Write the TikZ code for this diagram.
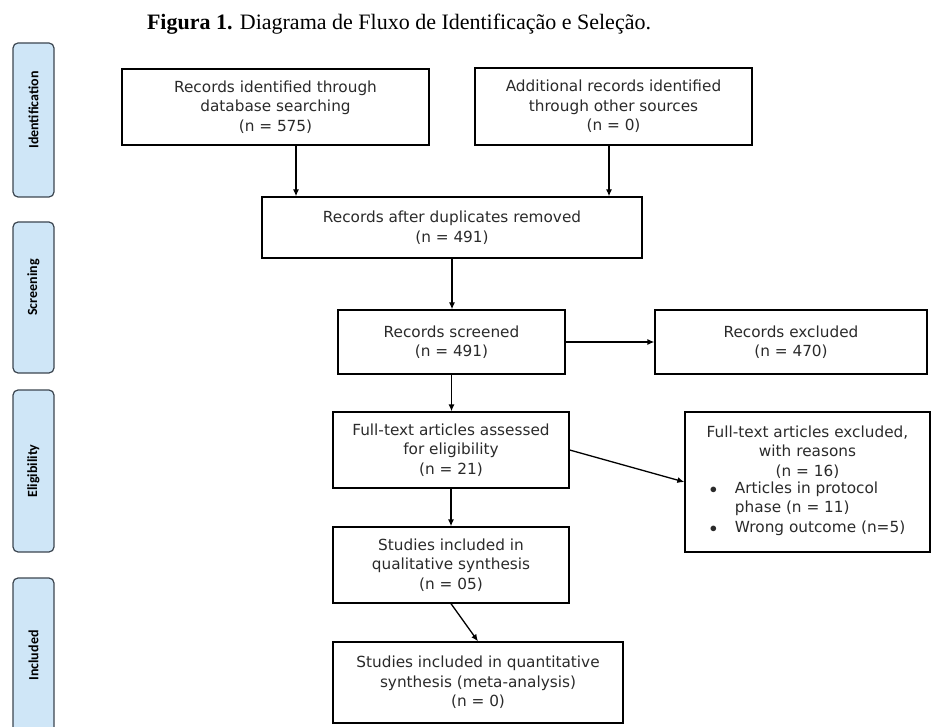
\documentclass[tikz,border=0pt]{standalone}
\usepackage{fontspec}
\setmainfont{Liberation Serif}
\newfontfamily\boxfont{DejaVu Sans}
\newfontfamily\phasefont{Carlito}
\usetikzlibrary{arrows.meta,positioning}
\definecolor{phaseblue}{HTML}{CFE6F7}
\definecolor{phaseline}{HTML}{3C4650}
\definecolor{boxtext}{HTML}{2A2A2A}

\begin{document}
\begin{tikzpicture}[x=1pt,y=-1pt,>={Latex[length=7pt,width=6pt]},
  box/.style={draw,line width=1.3pt,align=center,inner sep=0pt,text=boxtext,
    font=\boxfont\fontsize{15.3}{19.6}\selectfont},
  phase/.style={draw=phaseline,fill=phaseblue,line width=1.2pt,rounded corners=5pt,
    rotate=90,minimum height=41pt,inner sep=0pt,
    font=\phasefont\bfseries\fontsize{14}{16}\selectfont},
  flow/.style={->,line width=1.3pt}]
\useasboundingbox (0,0) rectangle (932,727);
% title
\node (title) at (399,24) {\fontsize{22}{24}\selectfont\textbf{Figura 1.} Diagrama de Fluxo de Identificação e Seleção.};
% phases on the left
\node[phase,minimum width=154pt] (ident) at (33.5,120) {\hspace{20pt}Identification};
\node[phase,minimum width=151pt] (screen) at (33.5,297.5) {\hspace{20pt}Screening};
\node[phase,minimum width=162pt] (elig) at (33.5,471) {Eligibility};
\node[phase,minimum width=155pt] (incl) at (33.5,655.5) {Included};
% identification
\node[box,minimum width=307pt,minimum height=76pt] (db) at (275.5,107)
  {Records identified through\\database searching\\(n = 575)};
\node[box,minimum width=277pt,minimum height=77pt] (other) at (613.5,106.5)
  {Additional records identified\\through other sources\\(n = 0)};
\node[box,minimum width=380pt,minimum height=61pt] (dup) at (452,227.5)
  {Records after duplicates removed\\(n = 491)};
% screening
\node[box,minimum width=227pt,minimum height=64pt] (screened) at (451.5,342)
  {Records screened\\(n = 491)};
\node[box,minimum width=272pt,minimum height=64pt] (excl) at (791,342)
  {Records excluded\\(n = 470)};
% eligibility
\node[box,minimum width=245pt,minimum height=140pt] (ftexcl) at (807.5,482)
  {Full-text articles excluded,\\with reasons\\(n = 16)\\
   \begin{tabular}{@{}l@{\hspace{18pt}}l@{}}
   $\bullet$ & Articles in protocol\\
             & phase (n = 11)\\
   $\bullet$ & Wrong outcome (n=5)
   \end{tabular}};
\node[box,minimum width=236pt,minimum height=76pt] (fulltext) at (451,450)
  {Full-text articles assessed\\for eligibility\\(n = 21)};
% included
\node[box,minimum width=236pt,minimum height=76pt] (qual) at (451,565)
  {Studies included in\\qualitative synthesis\\(n = 05)};
\node[box,minimum width=290pt,minimum height=81pt] (quant) at (478,682.5)
  {Studies included in quantitative\\synthesis (meta-analysis)\\(n = 0)};
% arrows
\draw[flow] ([xshift=20.5pt]db.south) -- ([xshift=20.5pt]db.south |- dup.north);
\draw[flow] ([xshift=-4.5pt]other.south) -- ([xshift=-4.5pt]other.south |- dup.north);
\draw[flow] (dup.south) -- (dup.south |- screened.north);
\draw[flow] (screened) -- (excl);
\draw[flow] (screened.south) -- (screened.south |- fulltext.north);
\draw[flow] (fulltext.east) -- (ftexcl.west);
\draw[flow] (fulltext.south) -- (fulltext.south |- qual.north);
\draw[flow] (qual.south) -- (quant.north);
\end{tikzpicture}
\end{document}
